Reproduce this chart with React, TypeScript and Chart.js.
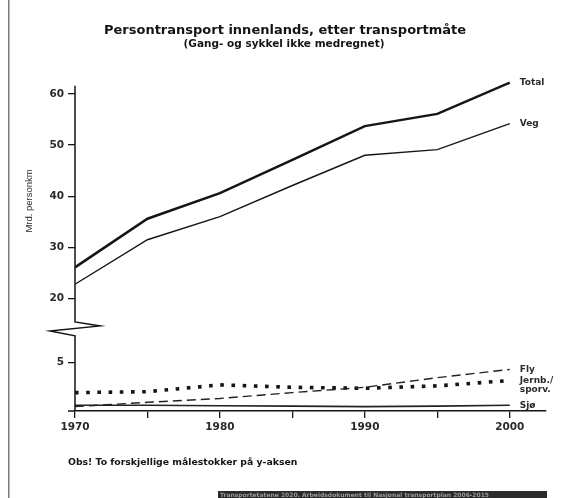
import React, { useEffect, useRef } from "react";
import { Chart, registerables } from "chart.js";

Chart.register(...registerables);

const years = [1970, 1975, 1980, 1985, 1990, 1995, 2000];
const total = [26.1, 35.6, 40.6, 47.1, 53.7, 56.1, 62.2];
const veg = [22.8, 31.5, 36.0, 42.1, 48.0, 49.1, 54.2];
const fly = [0.45, 0.9, 1.3, 1.9, 2.45, 3.45, 4.3];
const jernb = [1.9, 2.0, 2.7, 2.45, 2.35, 2.6, 3.15];
const sjo = [0.6, 0.6, 0.55, 0.5, 0.45, 0.5, 0.6];

const xTicks = [1970, 1975, 1980, 1985, 1990, 1995, 2000];
const topTicks = [20, 30, 40, 50, 60];
const bottomTicks = [5];

const seriesLabels = [["Total"], ["Veg"], ["Fly"], ["Jernb./", "sporv."], ["Sjø"]];

const titleText = "Persontransport innenlands, etter transportmåte";
const subtitleText = "(Gang- og sykkel ikke medregnet)";
const yTitle = "Mrd. personkm";
const noteText = "Obs! To forskjellige målestokker på y-aksen";
const sourceText = "Transportetatene 2020. Arbeidsdokument til Nasjonal transportplan 2006-2015";

const INK = "#151515";
const TXT = "#2a2a2a";
const FONT = "'DejaVu Sans', sans-serif";

const pts = (vals: number[]) => vals.map((v, i) => ({ x: years[i], y: v }));

const decorPlugin = {
  id: "decor",
  beforeDraw(chart: any) {
    const ctx = chart.ctx;
    ctx.save();
    ctx.fillStyle = "#ffffff";
    ctx.fillRect(0, 0, chart.width, chart.height);
    ctx.fillStyle = "#7a7a7a";
    ctx.fillRect(8, 0, 1.5, chart.height);
    ctx.restore();
  },
  afterDraw(chart: any) {
    const ctx = chart.ctx;
    const top = chart.scales.yTop;
    const bot = chart.scales.yBot;
    const x = top.right;
    const yb = top.bottom;
    ctx.save();
    // axis with break
    ctx.strokeStyle = INK;
    ctx.lineWidth = 1.5;
    ctx.beginPath();
    ctx.moveTo(x, top.getPixelForValue(61.6));
    ctx.lineTo(x, yb - 4);
    ctx.lineTo(x + 25, yb);
    ctx.lineTo(x - 25, yb + 5);
    ctx.lineTo(x, yb + 10);
    ctx.lineTo(x, bot.bottom);
    ctx.stroke();
    ctx.beginPath();
    ctx.moveTo(x - 7, bot.bottom);
    ctx.lineTo(x, bot.bottom);
    ctx.stroke();

    // titles
    ctx.fillStyle = INK;
    ctx.textAlign = "center";
    ctx.textBaseline = "middle";
    ctx.font = `bold 13px ${FONT}`;
    ctx.fillText(titleText, 285, 30.5);
    ctx.font = `bold 10.5px ${FONT}`;
    ctx.fillText(subtitleText, 284, 44);

    // note
    ctx.textAlign = "left";
    ctx.font = `bold 9.3px ${FONT}`;
    ctx.fillText(noteText, 68, 463);

    // source strip
    ctx.fillStyle = "#2b2b2b";
    ctx.fillRect(218, 491, 329, 8);
    ctx.fillStyle = "#9a9a9a";
    ctx.font = `bold 6px ${FONT}`;
    ctx.fillText(sourceText, 220, 495);

    // series end labels
    ctx.fillStyle = TXT;
    ctx.font = `bold 9px ${FONT}`;
    chart.data.datasets.forEach((ds: any, i: number) => {
      const meta = chart.getDatasetMeta(i);
      const last = meta.data[meta.data.length - 1];
      const lines = seriesLabels[i];
      lines.forEach((t: string, j: number) => {
        ctx.fillText(t, last.x + 10, last.y + j * 9);
      });
    });
    ctx.restore();
  },
};

export default function App() {
  const ref = useRef<HTMLCanvasElement>(null);
  useEffect(() => {
    if (!ref.current) return;
    const tickFont = { family: FONT, size: 10.5, weight: "bold" };
    const tickGrid = { display: true, drawOnChartArea: false, drawTicks: true, tickLength: 7, color: INK, lineWidth: 1.3 };
    const chart = new Chart(ref.current, {
      type: "line",
      data: {
        datasets: [
          { label: "Total", data: pts(total), yAxisID: "yTop", borderColor: INK, borderWidth: 2.5, pointRadius: 0, tension: 0 },
          { label: "Veg", data: pts(veg), yAxisID: "yTop", borderColor: INK, borderWidth: 1.4, pointRadius: 0, tension: 0 },
          { label: "Fly", data: pts(fly), yAxisID: "yBot", borderColor: "#222", borderWidth: 1.4, borderDash: [9, 5], pointRadius: 0, tension: 0 },
          { label: "Jernb./sporv.", data: pts(jernb), yAxisID: "yBot", borderColor: INK, borderWidth: 3.6, borderDash: [3.6, 7.6], borderCapStyle: "butt", pointRadius: 0, tension: 0 },
          { label: "Sjø", data: pts(sjo), yAxisID: "yBot", borderColor: "#222", borderWidth: 1.6, pointRadius: 0, tension: 0 },
        ],
      },
      options: {
        animation: false,
        responsive: false,
        maintainAspectRatio: false,
        layout: { padding: { top: 76, left: 0, right: 30, bottom: 62 } },
        plugins: { legend: { display: false }, tooltip: { enabled: false }, title: { display: false } },
        scales: {
          x: {
            type: "linear",
            min: 1970,
            max: 2002.5,
            afterBuildTicks: (s: any) => { s.ticks = xTicks.map((v) => ({ value: v })); },
            afterFit: (s: any) => { s.height = 25; },
            ticks: {
              color: TXT,
              padding: 3,
              font: tickFont,
              maxRotation: 0,
              autoSkip: false,
              callback: (v: any) => (Number(v) % 10 === 0 ? String(v) : ""),
            },
            grid: tickGrid,
            border: { display: true, color: INK, width: 1.5 },
          },
          yBot: {
            type: "linear",
            position: "left",
            stack: "v",
            stackWeight: 1,
            min: 0,
            max: 8.8,
            afterBuildTicks: (s: any) => { s.ticks = bottomTicks.map((v) => ({ value: v })); },
            afterFit: (s: any) => { s.width = 75; },
            ticks: { color: TXT, padding: 4, font: tickFont },
            grid: tickGrid,
            border: { display: false },
          },
          yTop: {
            type: "linear",
            position: "left",
            stack: "v",
            stackWeight: 2.936,
            min: 14.66,
            max: 63.5,
            afterBuildTicks: (s: any) => { s.ticks = topTicks.map((v) => ({ value: v })); },
            afterFit: (s: any) => { s.width = 75; },
            ticks: { color: TXT, padding: 4, font: tickFont },
            grid: tickGrid,
            border: { display: false },
            title: {
              display: true,
              text: yTitle,
              color: TXT,
              padding: { top: 24, bottom: 0 },
              font: { family: "'Liberation Sans', sans-serif", size: 9.5 },
            },
          },
        },
      },
      plugins: [decorPlugin],
    } as any);
    return () => chart.destroy();
  }, []);
  return (
    <div style={{ position: "fixed", left: 0, top: 0, width: 576, height: 498, background: "#fff" }}>
      <canvas ref={ref} width={576} height={498} style={{ display: "block" }} />
    </div>
  );
}
